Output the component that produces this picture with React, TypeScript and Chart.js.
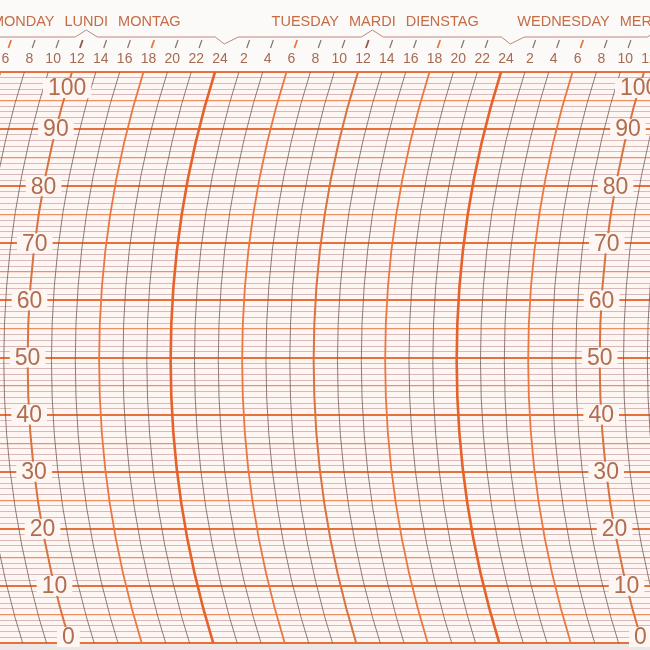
import { useEffect, useRef } from 'react';
import { Chart, registerables } from 'chart.js';

Chart.register(...registerables);

// Visible time window, in hours counted from Monday 00:00
const VIEW_START = 5.96;
const VIEW_END = 60.5;

// Hour ticks printed along the top edge (every 2 hours)
const HOUR_TICKS = [
  6, 8, 10, 12, 14, 16, 18, 20, 22, 24, 26, 28, 30, 32,
  34, 36, 38, 40, 42, 44, 46, 48, 50, 52, 54, 56, 58, 60,
];
const HOUR_LABELS = [
  '6', '8', '10', '12', '14', '16', '18', '20', '22', '24', '2', '4', '6', '8',
  '10', '12', '14', '16', '18', '20', '22', '24', '2', '4', '6', '8', '10', '12',
];

// Day captions, centred on each day's noon
const DAY_NOONS = [12, 36, 60];
const DAY_NAMES = [
  ['MONDAY', 'LUNDI', 'MONTAG'],
  ['TUESDAY', 'MARDI', 'DIENSTAG'],
  ['WEDNESDAY', 'MERCREDI', 'MITTWOCH'],
];

// Percent scale, printed along the noon arcs of Monday and Wednesday
const VALUE_LABELS = [0, 10, 20, 30, 40, 50, 60, 70, 80, 90, 100];
const SCALE_NOONS = [12, 60];

// Pen-arm arc: radius and centre height, in scale units
const ARC_RADIUS = 168;
const ARC_CENTRE = 49.5;

const FONT = '"Liberation Sans", Arial, Helvetica, sans-serif';
const PAPER = '#fdf6f3';

function arcStyle(t: number) {
  const h = ((t % 24) + 24) % 24;
  if (h === 0) return { color: '#e4622b', width: 2.6 };
  if (h === 12) return { color: '#d9733f', width: 2 };
  if (h === 6 || h === 18) return { color: '#ea7842', width: 1.8 };
  return { color: 'rgba(120, 92, 88, 0.8)', width: 1 };
}

const paperPlugin = {
  id: 'paper',
  beforeDraw(chart: any) {
    const { ctx, width, height, chartArea: a } = chart;
    ctx.save();
    ctx.fillStyle = '#fcfaf9';
    ctx.fillRect(0, 0, width, height);
    ctx.fillStyle = PAPER;
    ctx.fillRect(a.left, a.top, a.right - a.left, a.bottom - a.top);
    ctx.fillStyle = '#ece6e4';
    ctx.fillRect(0, a.bottom + 1, width, height - a.bottom);
    ctx.restore();
  },
  afterDraw(chart: any) {
    const { ctx, width, chartArea: a } = chart;
    const x = chart.scales.x;
    const y = chart.scales.y;

    const yc = y.getPixelForValue(ARC_CENTRE);
    const R = Math.abs(y.getPixelForValue(ARC_RADIUS) - y.getPixelForValue(0));
    const yTop = y.getPixelForValue(100);
    const lift = Math.sqrt(R * R - (yTop - yc) ** 2);
    const centreX = (t: number) => x.getPixelForValue(t) + lift;
    const arcX = (t: number, py: number) => centreX(t) - Math.sqrt(R * R - (py - yc) ** 2);

    // time arcs across the grid
    ctx.save();
    ctx.beginPath();
    ctx.rect(a.left, a.top, a.right - a.left, a.bottom - a.top);
    ctx.clip();
    const span = Math.asin(Math.min(1, (Math.max(yc - a.top, a.bottom - yc) + 4) / R));
    for (let t = 4; t <= 66; t += 2) {
      const s = arcStyle(t);
      ctx.beginPath();
      ctx.arc(centreX(t), yc, R, Math.PI - span, Math.PI + span);
      ctx.strokeStyle = s.color;
      ctx.lineWidth = s.width;
      ctx.stroke();
    }
    ctx.restore();

    // small slanted ticks above the hour numbers
    ctx.save();
    ctx.lineCap = 'butt';
    const t0 = a.top - 32;
    const t1 = a.top - 24;
    for (let t = 4; t <= 64; t += 2) {
      const h = t % 24;
      if (h === 0) continue;
      const major = h === 6 || h === 18;
      ctx.beginPath();
      ctx.moveTo(arcX(t, t0), t0);
      ctx.lineTo(arcX(t, t1), t1);
      ctx.strokeStyle = major ? '#e8763f' : h === 12 ? '#8c5a48' : '#8a7068';
      ctx.lineWidth = major || h === 12 ? 1.8 : 1.2;
      ctx.stroke();
    }

    // day bracket: caret at noon, notch at midnight
    const by = a.top - 35;
    ctx.beginPath();
    ctx.moveTo(0, by);
    for (let t = 0; t <= 72; t += 12) {
      if (t % 24 === 12) {
        const cx = arcX(t, by - 7);
        ctx.lineTo(cx - 11, by);
        ctx.lineTo(cx, by - 7);
        ctx.lineTo(cx + 11, by);
      } else {
        const cx = arcX(t, by + 7);
        ctx.lineTo(cx - 9, by);
        ctx.lineTo(cx, by + 7);
        ctx.lineTo(cx + 14, by);
      }
    }
    ctx.lineTo(width, by);
    ctx.strokeStyle = '#b98a7a';
    ctx.lineWidth = 1;
    ctx.stroke();

    // day names
    ctx.font = `14.5px ${FONT}`;
    ctx.fillStyle = '#c46c44';
    ctx.textBaseline = 'middle';
    const ly = a.top - 50;
    DAY_NAMES.forEach((words, i) => {
      const cx = arcX(DAY_NOONS[i], by - 7);
      const midW = ctx.measureText(words[1]).width;
      ctx.textAlign = 'center';
      ctx.fillText(words[1], cx, ly);
      ctx.textAlign = 'right';
      ctx.fillText(words[0], cx - midW / 2 - 10, ly);
      ctx.textAlign = 'left';
      ctx.fillText(words[2], cx + midW / 2 + 10, ly);
    });

    // percent labels sitting on the noon arcs
    ctx.font = `23px ${FONT}`;
    ctx.textAlign = 'center';
    ctx.textBaseline = 'middle';
    SCALE_NOONS.forEach((noon) => {
      VALUE_LABELS.forEach((v) => {
        let py = y.getPixelForValue(v);
        if (v === 100) py += 16;
        if (v === 0) py -= 6;
        const px = arcX(noon, py);
        const txt = String(v);
        const w = ctx.measureText(txt).width;
        ctx.fillStyle = PAPER;
        ctx.fillRect(px - w / 2 - 5, py - 10, w + 10, 20);
        ctx.fillStyle = '#b06d50';
        ctx.fillText(txt, px, py + 1);
      });
    });
    ctx.restore();
  },
};

function RecorderChart() {
  const canvasRef = useRef<HTMLCanvasElement>(null);
  const chartRef = useRef<Chart | null>(null);

  useEffect(() => {
    if (!canvasRef.current) return;
    if (chartRef.current) chartRef.current.destroy();

    chartRef.current = new Chart(canvasRef.current, {
      type: 'line',
      data: { datasets: [] },
      options: {
        animation: false,
        responsive: true,
        maintainAspectRatio: false,
        events: [],
        layout: { padding: { top: 0, right: 0, bottom: 7, left: 0 } },
        plugins: {
          legend: { display: false },
          tooltip: { enabled: false },
        },
        scales: {
          x: {
            type: 'linear',
            position: 'top',
            min: VIEW_START,
            max: VIEW_END,
            afterFit: (scale: any) => {
              scale.height = 72;
              // let the edge labels run off the paper instead of shrinking the grid
              scale.paddingLeft = 0;
              scale.paddingRight = 0;
            },
            border: { display: false },
            grid: { display: false, drawTicks: false },
            ticks: {
              stepSize: 2,
              autoSkip: false,
              includeBounds: false,
              maxRotation: 0,
              labelOffset: 5,
              padding: 4,
              color: '#a56a52',
              font: { family: FONT, size: 14 },
              callback: (value: any) => {
                const i = HOUR_TICKS.indexOf(Number(value));
                return i >= 0 ? HOUR_LABELS[i] : '';
              },
            },
          },
          y: {
            type: 'linear',
            min: 0,
            max: 100,
            afterFit: (scale: any) => {
              scale.width = 0;
              scale.paddingTop = 0;
              scale.paddingBottom = 0;
            },
            border: { display: false },
            grid: {
              drawTicks: false,
              color: (c: any) => {
                const v = c.tick ? c.tick.value : 0;
                if (v % 10 === 0) return '#e8713b';
                if (v % 5 === 0) return '#ee9064';
                return '#d3b2b2';
              },
              lineWidth: (c: any) => {
                const v = c.tick ? c.tick.value : 0;
                if (v % 10 === 0) return 2;
                if (v % 5 === 0) return 1.3;
                return 0.9;
              },
            },
            ticks: { display: false, stepSize: 1, maxTicksLimit: 200 },
          },
        },
      },
      plugins: [paperPlugin],
    } as any);

    return () => {
      if (chartRef.current) {
        chartRef.current.destroy();
        chartRef.current = null;
      }
    };
  }, []);

  return (
    <div style={{ position: 'relative', width: 650, height: 650 }}>
      <canvas ref={canvasRef}></canvas>
    </div>
  );
}

export default function App() {
  useEffect(() => {
    document.body.style.margin = '0';
  }, []);
  return <RecorderChart />;
}
